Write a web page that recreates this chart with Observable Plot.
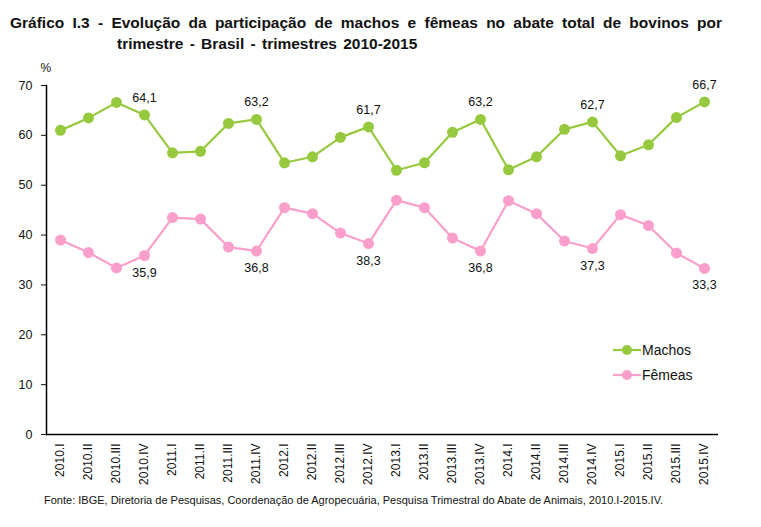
<!DOCTYPE html>
<html><head><meta charset="utf-8">
<script src="https://cdn.jsdelivr.net/npm/d3@7"></script>
<script src="https://cdn.jsdelivr.net/npm/@observablehq/plot@0.6"></script>
<style>
body{margin:0;background:#fff;font-family:"Liberation Sans Narrow","Liberation Sans",Arial,sans-serif;}
#wrap{position:relative;width:761px;height:527px;}
#title{position:absolute;left:10px;top:12px;width:712px;font-weight:bold;font-size:15.5px;line-height:21px;color:#111;}
#title .t1{text-align:justify;text-align-last:justify;}
#title .t2{padding-left:107px;word-spacing:2px;}
#chart{position:absolute;left:0;top:60px;}
#caption{position:absolute;left:44px;top:494px;font-size:11px;color:#111;}
#legend{position:absolute;left:613px;top:337px;font-family:"Liberation Sans",Arial,sans-serif;font-size:14px;color:#111;}
#legend div{display:flex;align-items:center;height:25px;}
#legend svg{margin-right:1px;}
</style></head>
<body><div id="wrap">
<div id="title"><div class="t1">Gráfico I.3 - Evolução da participação de machos e fêmeas no abate total de bovinos por</div><div class="t2">trimestre - Brasil - trimestres 2010-2015</div></div>
<div id="chart"></div>
<div id="legend"></div>
<div id="caption">Fonte: IBGE, Diretoria de Pesquisas, Coordenação de Agropecuária, Pesquisa Trimestral do Abate de Animais, 2010.I-2015.IV.</div>
</div>
<script>
const quarters = ["2010.I","2010.II","2010.III","2010.IV","2011.I","2011.II","2011.III","2011.IV","2012.I","2012.II","2012.III","2012.IV","2013.I","2013.II","2013.III","2013.IV","2014.I","2014.II","2014.III","2014.IV","2015.I","2015.II","2015.III","2015.IV"];
const machos = [61.0,63.5,66.6,64.1,56.5,56.8,62.4,63.2,54.5,55.7,59.6,61.7,53.0,54.5,60.6,63.2,53.1,55.7,61.2,62.7,55.9,58.1,63.6,66.7];
const femeas = [39.0,36.5,33.4,35.9,43.5,43.2,37.6,36.8,45.5,44.3,40.4,38.3,47.0,45.5,39.4,36.8,46.9,44.3,38.8,37.3,44.1,41.9,36.4,33.3];
const labeledQuarters = ["2010.IV","2011.IV","2012.IV","2013.IV","2014.IV","2015.IV"];
const yTicks = [0,10,20,30,40,50,60,70];
const seriesNames = ["Machos","Fêmeas"];
const seriesColors = ["#97c93f","#fa9fcc"];

const data = [];
quarters.forEach((q,i)=>{
  data.push({q, s:"Machos", v:machos[i]});
  data.push({q, s:"Fêmeas", v:femeas[i]});
});
const fmt = v => v.toFixed(1).replace(".", ",");
const labM = data.filter(d=>d.s==="Machos" && labeledQuarters.includes(d.q));
const labF = data.filter(d=>d.s==="Fêmeas" && labeledQuarters.includes(d.q));

const chart = Plot.plot({
  width: 761, height: 432,
  marginTop: 25, marginBottom: 58, marginLeft: 46, marginRight: 43,
  style: {fontFamily: "Liberation Sans, Arial, sans-serif", fontSize: "12px", color: "#111"},
  x: {type: "point", domain: quarters, padding: 0.5, label: null},
  y: {domain: [0,70], label: null},
  color: {domain: seriesNames, range: seriesColors},
  marks: [
    Plot.axisY({ticks: yTicks, tickSize: 5, tickPadding: 9, fontSize: 12.5, label: null}),
    Plot.axisX({tickSize: 0, tickPadding: 9, tickRotate: -90, fontSize: 12, label: null}),
    Plot.text(["%"], {frameAnchor: "top-left", dx: -6, dy: -22, fontSize: 12}),
    Plot.frame({anchor: "left", stroke: "#000", strokeWidth: 1.5}),
    Plot.ruleY([0], {stroke: "#000", strokeWidth: 1.5}),
    Plot.line(data, {x: "q", y: "v", z: "s", stroke: "s", strokeWidth: 2.2}),
    Plot.dot(data, {x: "q", y: "v", fill: "s", r: 5.5}),
    Plot.text(labM, {x: "q", y: "v", text: d=>fmt(d.v), dy: -17, fontSize: 12.5}),
    Plot.text(labF, {x: "q", y: "v", text: d=>fmt(d.v), dy: 17, fontSize: 12.5})
  ]
});
document.getElementById("chart").appendChild(chart);

const leg = document.getElementById("legend");
seriesNames.forEach((n,i)=>{
  const row = document.createElement("div");
  row.innerHTML = `<svg width="28" height="12"><line x1="0" x2="28" y1="6" y2="6" stroke="${seriesColors[i]}" stroke-width="2.2"/><circle cx="14" cy="6" r="5" fill="${seriesColors[i]}"/></svg><span>${n}</span>`;
  leg.appendChild(row);
});
</script>
</body></html>
